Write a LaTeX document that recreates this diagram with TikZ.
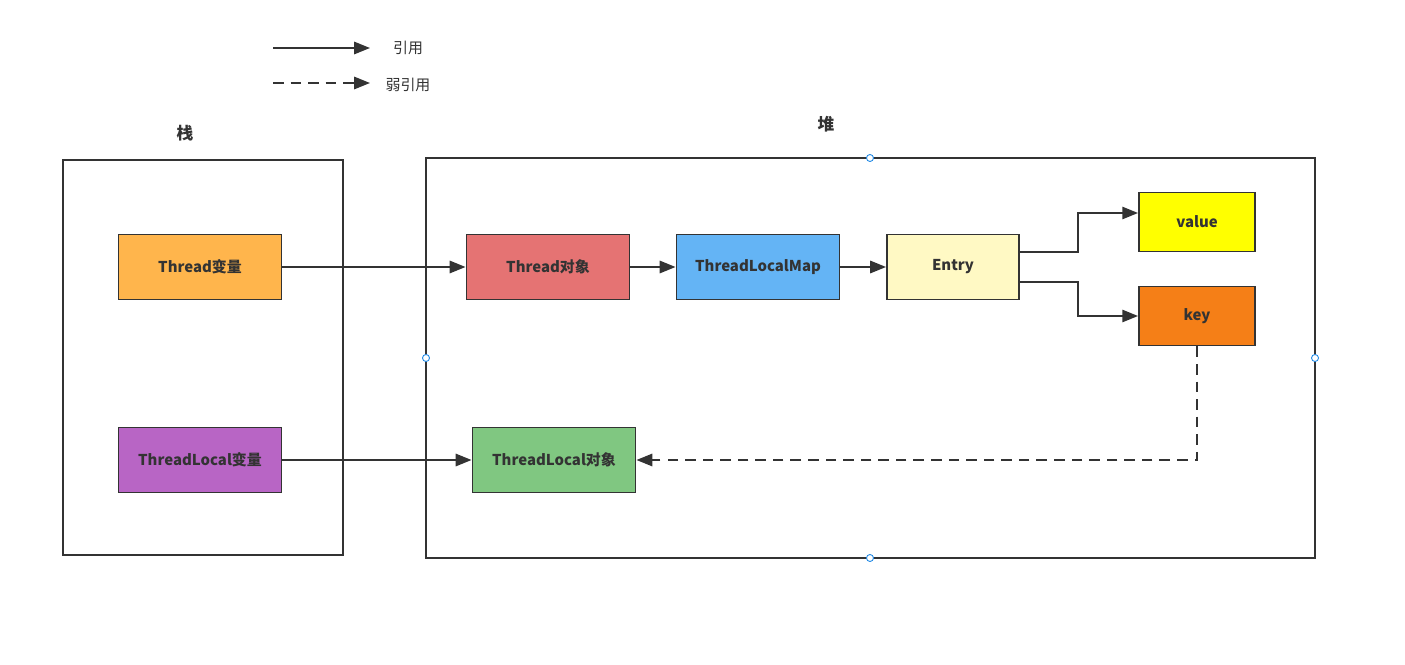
\documentclass[tikz,border=0pt]{standalone}
\usepackage{fontspec}
\setmainfont{Noto Sans CJK SC}
\usetikzlibrary{arrows.meta,positioning}
\definecolor{ink}{HTML}{333333}
\definecolor{cthread}{HTML}{FFB54C}
\definecolor{ctl}{HTML}{B865C5}
\definecolor{cobj}{HTML}{E57373}
\definecolor{cmap}{HTML}{64B4F5}
\definecolor{centry}{HTML}{FFF9C4}
\definecolor{cvalue}{HTML}{FFFF00}
\definecolor{ckey}{HTML}{F57F17}
\definecolor{ctlobj}{HTML}{80C781}
\definecolor{handle}{HTML}{1E88E5}
\tikzset{
  box/.style={draw=ink, line width=1.1pt, minimum width=3.26cm, minimum height=1.3cm,
    font=\fontsize{8.5}{10}\selectfont\bfseries, text=ink, inner sep=0pt},
  small/.style={box, minimum width=2.32cm, minimum height=1.18cm},
  ref/.style={draw=ink, line width=1.1pt, -{Triangle[length=9pt,width=7pt]}},
  weakref/.style={ref, dash pattern=on 6pt off 4pt},
  area/.style={draw=ink, line width=1.1pt},
  hnd/.style={circle, draw=handle, fill=white, line width=0.5pt, minimum size=4pt, inner sep=0pt}
}
\begin{document}
\begin{tikzpicture}[x=0.02cm, y=-0.02cm]
  \useasboundingbox (0,0) rectangle (1405,665);

  \coordinate (l1a) at (273,48);
  \coordinate (l1b) at (370,48);
  \coordinate (l2a) at (273,83);
  \coordinate (l2b) at (370,83);
  \node[font=\fontsize{8.5}{10}\selectfont, text=ink] (t1) at (408,48) {引用};
  \node[font=\fontsize{8.5}{10}\selectfont, text=ink] (t2) at (408,85) {弱引用};
  \draw[ref] (l1a) -- (l1b);
  \draw[weakref] (l2a) -- (l2b);

  \node[font=\fontsize{9.5}{11}\selectfont\bfseries, text=ink] (stacklbl) at (185,133) {栈};
  \node[font=\fontsize{9.5}{11}\selectfont\bfseries, text=ink] (heaplbl) at (826,124) {堆};
  \draw[area] (63,160) rectangle (343,555);
  \draw[area] (426,158) rectangle (1315,558);

  \node[box, fill=cthread] (tv) at (200,267) {Thread变量};
  \node[box, fill=ctl] (tlv) at (200,460) {ThreadLocal变量};
  \node[box, fill=cobj] (to) at (548,267) {Thread对象};
  \node[box, fill=cmap] (tlm) at (758,267) {ThreadLocalMap};
  \node[box, fill=centry, minimum width=2.64cm] (entry) at (953,267) {Entry};
  \node[small, fill=cvalue] (value) at (1197,222) {value};
  \node[small, fill=ckey] (key) at (1197,316) {key};
  \node[box, fill=ctlobj] (tlo) at (554,460) {ThreadLocal对象};

  \draw[ref] (tv) -- (to);
  \draw[ref] (to) -- (tlm);
  \draw[ref] (tlm) -- (entry);
  \draw[ref] (entry.east |- 0,252) -- (1078,252) |- (value.west |- 0,213);
  \draw[ref] (entry.east |- 0,282) -- (1078,282) |- (key.west);
  \draw[ref] (tlv) -- (tlo);
  \draw[weakref] (key.south) |- (tlo.east);

  \node[hnd] (h1) at (870,158) {};
  \node[hnd] (h2) at (426,358) {};
  \node[hnd] (h3) at (1315,358) {};
  \node[hnd] (h4) at (870,558) {};
\end{tikzpicture}
\end{document}
